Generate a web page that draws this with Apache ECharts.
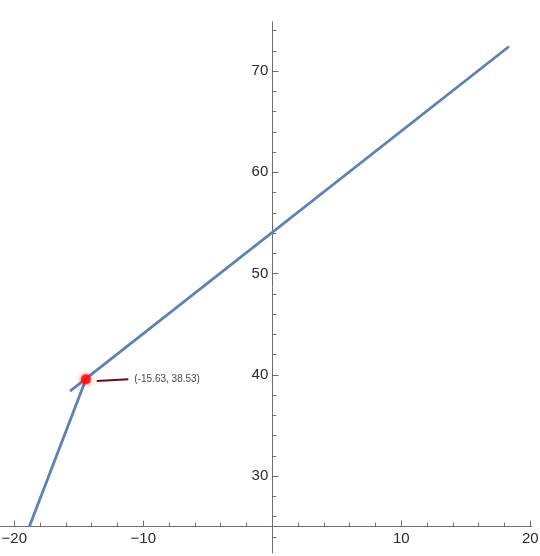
<!DOCTYPE html>
<html>
<head>
<meta charset="utf-8">
<script src="https://cdn.jsdelivr.net/npm/echarts@6/dist/echarts.min.js"></script>
<style>
html,body{margin:0;padding:0;background:#fff;}
#chart{width:540px;height:556px;}
</style>
</head>
<body>
<div id="chart"></div>
<script>
// ---- data ----
const upperX = [-15.68, 18.35];
const upperY = [38.39, 72.42];
const lowerX = [-18.84, -14.45];
const lowerY = [25.0, 39.55];
const pointX = [-14.45];
const pointY = [39.55];
const calloutX = [-13.61, -11.16];
const calloutY = [39.39, 39.56];
const calloutText = "(-15.63, 38.53)";
const xLabelValues = [-20, -10, 10, 20];
const yLabelValues = [30, 40, 50, 60, 70];
const xMinorTicks = [-20, -18, -16, -14, -12, -10, -8, -6, -4, -2, 2, 4, 6, 8, 10, 12, 14, 16, 18, 20];
const yMinorTicks = [24, 26, 28, 30, 32, 34, 36, 38, 40, 42, 44, 46, 48, 50, 52, 54, 56, 58, 60, 62, 64, 66, 68, 70, 72, 74];
const xRange = [-21.11, 20.11];
const yRange = [22.4, 74.87];
const xAxisAtY = 25;
const yAxisAtX = 0;

const zip = (xs, ys) => xs.map((x, i) => [x, ys[i]]);

const chart = echarts.init(document.getElementById('chart'));
const gridTop = 21.7, gridBottom = 3, gridLeft = 0, gridRight = 8.3;
const gridH = 556 - gridTop - gridBottom;
const gridW = 540 - gridLeft - gridRight;
const xOffset = -(xAxisAtY - yRange[0]) / (yRange[1] - yRange[0]) * gridH;
const yOffset = -(yAxisAtX - xRange[0]) / (xRange[1] - xRange[0]) * gridW;
const axisColor = '#6e6e6e';
const labelFont = { fontFamily: 'Liberation Sans, Arial, sans-serif', fontSize: 15, color: '#2b2b2b' };
const fmt = v => String(v).replace('-', '\u2212');

const option = {
  animation: false,
  backgroundColor: '#fff',
  grid: { left: gridLeft, right: gridRight, top: gridTop, bottom: gridBottom, containLabel: false, outerBoundsMode: 'none' },
  xAxis: [
    {
      type: 'value', min: xRange[0], max: xRange[1], position: 'bottom', offset: xOffset,
      axisLine: { show: true, onZero: false, lineStyle: { color: axisColor, width: 1 } },
      axisTick: { show: true, inside: true, length: 4, customValues: xMinorTicks, lineStyle: { color: axisColor } },
      axisLabel: { show: true, customValues: xLabelValues, margin: 5, formatter: fmt, hideOverlap: false, ...labelFont },
      splitLine: { show: false }
    },
    {
      type: 'value', min: xRange[0], max: xRange[1], position: 'bottom', offset: xOffset,
      axisLine: { show: false, onZero: false },
      axisTick: { show: true, inside: true, length: 6, customValues: xLabelValues, lineStyle: { color: axisColor } },
      axisLabel: { show: false },
      splitLine: { show: false }
    }
  ],
  yAxis: [
    {
      type: 'value', min: yRange[0], max: yRange[1], position: 'left', offset: yOffset,
      axisLine: { show: true, onZero: false, lineStyle: { color: axisColor, width: 1 } },
      axisTick: { show: true, inside: true, length: 4, customValues: yMinorTicks, lineStyle: { color: axisColor } },
      axisLabel: { show: true, customValues: yLabelValues, margin: 4, hideOverlap: false, ...labelFont },
      splitLine: { show: false }
    },
    {
      type: 'value', min: yRange[0], max: yRange[1], position: 'left', offset: yOffset,
      axisLine: { show: false, onZero: false },
      axisTick: { show: true, inside: true, length: 6, customValues: yLabelValues, lineStyle: { color: axisColor } },
      axisLabel: { show: false },
      splitLine: { show: false }
    }
  ],
  series: [
    {
      type: 'line', data: zip(upperX, upperY), showSymbol: false, symbol: 'none',
      lineStyle: { color: '#5E81B5', width: 2.8 }, z: 3
    },
    {
      type: 'line', data: zip(lowerX, lowerY), showSymbol: false, symbol: 'none',
      lineStyle: { color: '#5E81B5', width: 2.8 }, z: 3
    },
    {
      type: 'line', data: zip(calloutX, calloutY), showSymbol: false, symbol: 'none',
      lineStyle: { color: '#6d0d0d', width: 2 }, z: 3
    },
    {
      type: 'scatter', data: [[calloutX[1], calloutY[1]]], symbolSize: 0,
      label: { show: true, position: 'right', distance: 6, formatter: calloutText,
        fontFamily: 'Liberation Sans, Arial, sans-serif', fontSize: 10, color: '#111' },
      z: 4
    },
    {
      type: 'scatter', data: zip(pointX, pointY), symbolSize: 10,
      itemStyle: { color: '#ff0a0a', shadowBlur: 5, shadowColor: 'rgba(255,0,0,0.9)' },
      z: 5
    }
  ]
};
chart.setOption(option);
</script>
</body>
</html>
